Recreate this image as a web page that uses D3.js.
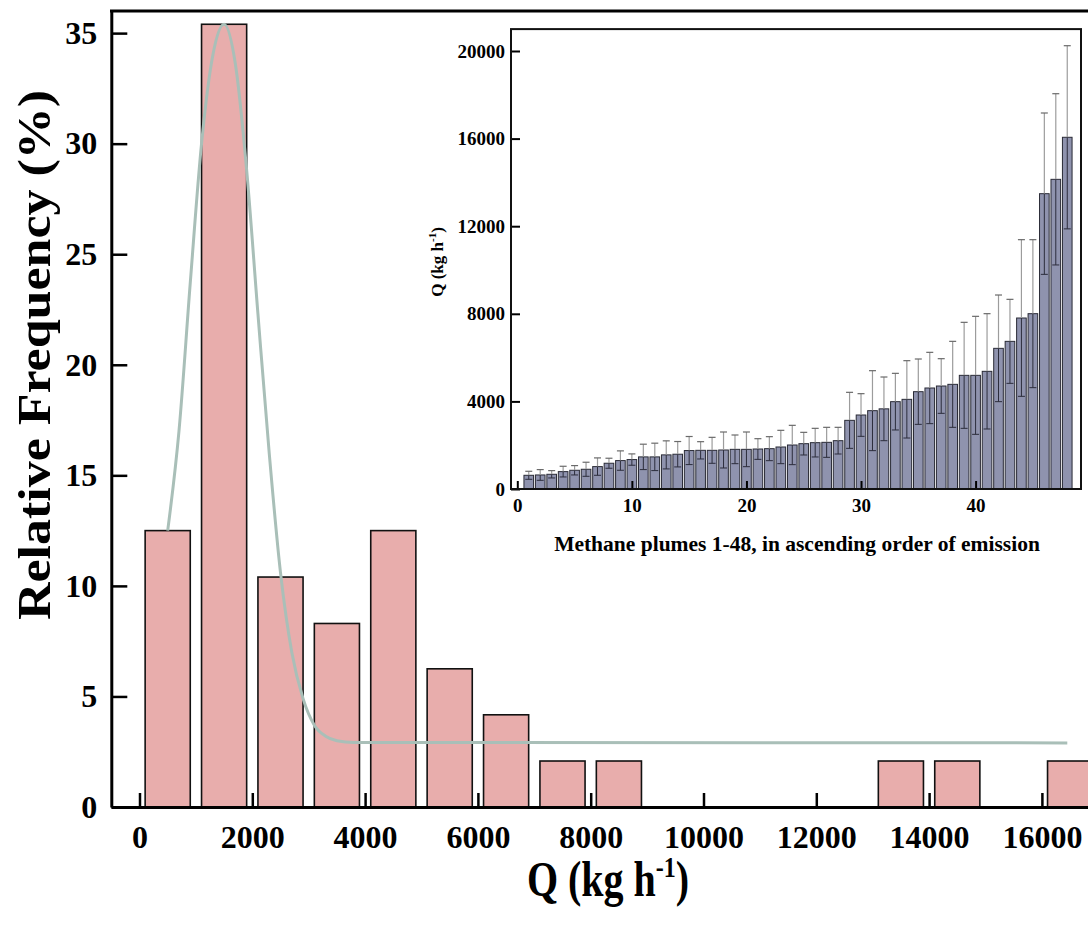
<!DOCTYPE html>
<html>
<head>
<meta charset="utf-8">
<script src="https://cdn.jsdelivr.net/npm/d3@7"></script>
<style>
    body { margin: 0; background: #fff; }
    svg { display: block; font-family: "Liberation Serif", "Times New Roman", serif; font-weight: bold; }
</style>
</head>
<body>
<svg id="chart" width="1088" height="933"></svg>
<script>
/* ------------------- main histogram ------------------- */
let binCenters = [500, 1500, 2500, 3500, 4500, 5500, 6500, 7500, 8500, 13500, 14500, 16500]
let relFreq = [12.5, 35.4, 10.4, 8.3, 12.5, 6.25, 4.17, 2.08, 2.08, 2.08, 2.08, 2.08]
let binWidth = 800

// fitted curve
let fitQ = [500, 700, 900, 1100, 1300, 1500, 1700, 1900, 2100, 2300, 2500, 2700, 2900, 3100, 3300, 3500, 3800, 16450]
let fitFreq = [12.5, 17.0, 23.7, 30.0, 34.0, 35.4, 33.6, 28.8, 22.3, 16.0, 10.6, 7.0, 4.9, 3.7, 3.2, 3.0, 2.92, 2.9]

let mainXTicks = [0, 2000, 4000, 6000, 8000, 10000, 12000, 14000, 16000]
let mainYTicks = [0, 5, 10, 15, 20, 25, 30, 35]

/* ------------------- inset: plumes ------------------- */
let plumeIdx = d3.range(1, 49)
let plumeQ = [626, 641, 672, 794, 855, 901, 1023, 1176, 1298, 1344, 1466, 1466, 1558, 1588, 1756, 1766,
    1766, 1781, 1811, 1811, 1826, 1842, 1918, 2009, 2070, 2116, 2131, 2207, 3135, 3379, 3577, 3660,
    3988, 4094, 4444, 4612, 4703, 4779, 5190, 5190, 5373, 6423, 6742, 7808, 8006, 13485, 14140, 16060]
let plumeErr = [183, 245, 168, 244, 214, 321, 397, 229, 443, 259, 580, 626, 641, 580, 641, 395,
    593, 822, 655, 792, 472, 548, 761, 898, 517, 654, 685, 609, 1279, 974, 1826, 1454,
    1293, 1766, 1492, 1628, 1248, 1963, 2420, 2694, 2633, 2435, 1918, 3577, 3379, 3684, 3910, 4182]
let insetXTicks = [0, 10, 20, 30, 40]
let insetYTicks = [0, 4000, 8000, 12000, 16000, 20000]

let svg = d3.select('#chart')
let fontName = '"Liberation Serif", "Times New Roman", serif'

function styleAxis(ax, lineW, tickW, fontSize) {
    ax.attr('font-family', fontName).attr('font-weight', 'bold')
    if (lineW) ax.select('.domain').attr('stroke', '#000').attr('stroke-width', lineW)
    else ax.select('.domain').remove()
    ax.selectAll('.tick line').attr('stroke', '#000').attr('stroke-width', tickW)
    ax.selectAll('.tick text').attr('fill', '#000').style('font-size', fontSize)
}

function drawMain() {
    let x = d3.scaleLinear().domain([-500, 17000]).range([111.3, 1098.3])
    let y = d3.scaleLinear().domain([0, 36]).range([807, 11])
    let g = svg.append('g')

    g.selectAll('.bar')
        .data(binCenters)
        .enter().append('rect')
        .attr('class', 'bar')
        .attr('x', (d) => x(d - binWidth / 2))
        .attr('y', (d, i) => y(relFreq[i]))
        .attr('width', x(binWidth) - x(0))
        .attr('height', (d, i) => y(0) - y(relFreq[i]))
        .attr('fill', '#e8adac')
        .attr('stroke', '#111')
        .attr('stroke-width', 1.6)

    let line = d3.line()
        .x((d) => x(d))
        .y((d, i) => y(fitFreq[i]))
        .curve(d3.curveMonotoneX)
    g.append('path')
        .attr('d', line(fitQ))
        .attr('fill', 'none')
        .attr('stroke', '#a9bfb8')
        .attr('stroke-width', 3)

    let xAxis = g.append('g')
        .attr('transform', 'translate(0,807)')
        .call(d3.axisBottom(x).tickValues(mainXTicks).tickFormat(d3.format('d'))
            .tickSizeInner(-14).tickSizeOuter(0).tickPadding(18))
    let yAxis = g.append('g')
        .attr('transform', 'translate(111.3,0)')
        .call(d3.axisLeft(y).tickValues(mainYTicks).tickSizeInner(-16).tickSizeOuter(0).tickPadding(14))
    styleAxis(xAxis, 3, 2.5, '32px')
    styleAxis(yAxis, 3, 2.5, '32px')

    // frame top
    g.append('line')
        .attr('x1', 110).attr('x2', 1088).attr('y1', 11).attr('y2', 11)
        .attr('stroke', '#000').attr('stroke-width', 3)

    let xt = g.append('text')
        .attr('transform', 'translate(608,896) scale(1,1.25)')
        .attr('text-anchor', 'middle')
        .style('font-size', '40px')
    xt.append('tspan').text('Q (kg h')
    xt.append('tspan').text('-1').attr('dy', -15).style('font-size', '24px')
    xt.append('tspan').text(')').attr('dy', 15)

    g.append('text')
        .attr('transform', 'translate(50,355) rotate(-90)')
        .attr('text-anchor', 'middle')
        .attr('textLength', 530)
        .attr('lengthAdjust', 'spacingAndGlyphs')
        .style('font-size', '46px')
        .text('Relative Frequency (%)')
}

function drawInset() {
    let xi = d3.scaleLinear().domain([-0.55, 49.2]).range([511, 1081])
    let yi = d3.scaleLinear().domain([0, 21000]).range([489, 29.1])
    let g = svg.append('g')
    let barW = (xi(1) - xi(0)) * 0.84

    g.append('rect')
        .attr('x', 511).attr('y', 29.1)
        .attr('width', 1081 - 511).attr('height', 489 - 29.1)
        .attr('fill', '#fff')

    let bars = g.selectAll('.plume')
        .data(plumeIdx)
        .enter().append('g')
        .attr('class', 'plume')

    bars.append('rect')
        .attr('x', (d) => xi(d) - barW / 2)
        .attr('y', (d, i) => yi(plumeQ[i]))
        .attr('width', barW)
        .attr('height', (d, i) => yi(0) - yi(plumeQ[i]))
        .attr('fill', '#8f93ae')
        .attr('stroke', '#2a2b36')
        .attr('stroke-width', 1)

    // upper error (grey)
    bars.append('line')
        .attr('x1', (d) => xi(d)).attr('x2', (d) => xi(d))
        .attr('y1', (d, i) => yi(plumeQ[i]))
        .attr('y2', (d, i) => yi(plumeQ[i] + plumeErr[i]))
        .attr('stroke', '#9c9c9c').attr('stroke-width', 1.2)
    bars.append('line')
        .attr('x1', (d) => xi(d) - 3.5).attr('x2', (d) => xi(d) + 3.5)
        .attr('y1', (d, i) => yi(plumeQ[i] + plumeErr[i]))
        .attr('y2', (d, i) => yi(plumeQ[i] + plumeErr[i]))
        .attr('stroke', '#6a6a6a').attr('stroke-width', 1.2)

    // lower error (dark, inside the bar)
    bars.append('line')
        .attr('x1', (d) => xi(d)).attr('x2', (d) => xi(d))
        .attr('y1', (d, i) => yi(plumeQ[i]))
        .attr('y2', (d, i) => yi(plumeQ[i] - plumeErr[i]))
        .attr('stroke', '#2c2d3c').attr('stroke-width', 1)
    bars.append('line')
        .attr('x1', (d) => xi(d) - 3.5).attr('x2', (d) => xi(d) + 3.5)
        .attr('y1', (d, i) => yi(plumeQ[i] - plumeErr[i]))
        .attr('y2', (d, i) => yi(plumeQ[i] - plumeErr[i]))
        .attr('stroke', '#2c2d3c').attr('stroke-width', 1)

    let xAxis = g.append('g')
        .attr('transform', 'translate(0,489)')
        .call(d3.axisBottom(xi).tickValues(insetXTicks).tickSizeInner(-8).tickSizeOuter(0).tickPadding(10))
    let yAxis = g.append('g')
        .attr('transform', 'translate(511,0)')
        .call(d3.axisLeft(yi).tickValues(insetYTicks).tickFormat(d3.format('d'))
            .tickSizeInner(-9).tickSizeOuter(0).tickPadding(6))
    styleAxis(xAxis, 0, 2, '19px')
    styleAxis(yAxis, 0, 2, '19px')

    g.append('rect')
        .attr('x', 511).attr('y', 29.1)
        .attr('width', 1081 - 511).attr('height', 489 - 29.1)
        .attr('fill', 'none')
        .attr('stroke', '#111').attr('stroke-width', 2)

    g.append('text')
        .attr('x', 797).attr('y', 551)
        .attr('text-anchor', 'middle')
        .style('font-size', '21.5px')
        .text('Methane plumes 1-48, in ascending order of emission')

    let yt = g.append('text')
        .attr('transform', 'translate(443,262) rotate(-90)')
        .attr('text-anchor', 'middle')
        .style('font-size', '17px')
    yt.append('tspan').text('Q (kg h')
    yt.append('tspan').text('-1').attr('dy', -7).style('font-size', '11px')
    yt.append('tspan').text(')').attr('dy', 7)
}

drawMain()
drawInset()
</script>
</body>
</html>
